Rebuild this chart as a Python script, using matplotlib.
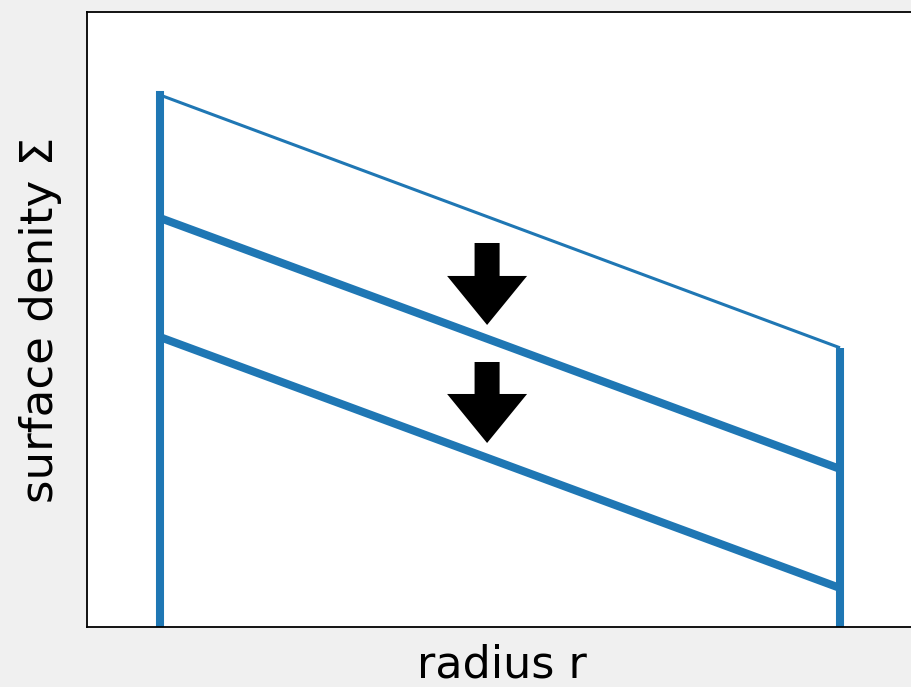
import matplotlib
matplotlib.use("Agg")
import matplotlib.pyplot as plt

# radius positions (inner and outer edge)
r_edges = [0.0, 1.0]
# surface density profiles (value at inner edge, value at outer edge)
sigma_initial = [0.865, 0.454]
sigma_mid = [0.665, 0.257]
sigma_late = [0.4715, 0.0634]
# arrows: x position, start y, length
arrow_x = [0.481, 0.481]
arrow_y = [0.6244, 0.4309]
arrow_len = [0.1333, 0.1317]

blue = "#1f77b4"
fig = plt.figure(figsize=(9.12, 6.87), dpi=100, facecolor="#f0f0f0")
ax = fig.add_axes([87/912, 60/687, (916-87)/912, 615/687])

ax.plot(r_edges, sigma_initial, color=blue, lw=2.2, solid_capstyle="butt")
ax.plot(r_edges, sigma_mid, color=blue, lw=5.8, solid_capstyle="butt")
ax.plot(r_edges, sigma_late, color=blue, lw=5.8, solid_capstyle="butt")
ax.plot([r_edges[0], r_edges[0]], [0, sigma_initial[0]], color=blue, lw=5.8, solid_capstyle="projecting")
ax.plot([r_edges[1], r_edges[1]], [0, sigma_initial[1]], color=blue, lw=5.8, solid_capstyle="butt")

for x, y, L in zip(arrow_x, arrow_y, arrow_len):
    ax.arrow(x, y, 0, -L, width=0.0368, head_width=0.1176, head_length=0.0797,
             length_includes_head=True, color="black", lw=0)

ax.set_xlim(-0.1074, 1.1118)
ax.set_ylim(0, 1)
ax.set_xticks([])
ax.set_yticks([])
for s in ax.spines.values():
    s.set_linewidth(1.3)
ax.set_xlabel("radius r", fontsize=32, labelpad=12)
ax.set_ylabel("surface denity Σ", fontsize=32.5, labelpad=18)

fig.savefig("out.png", dpi=100, facecolor=fig.get_facecolor())
